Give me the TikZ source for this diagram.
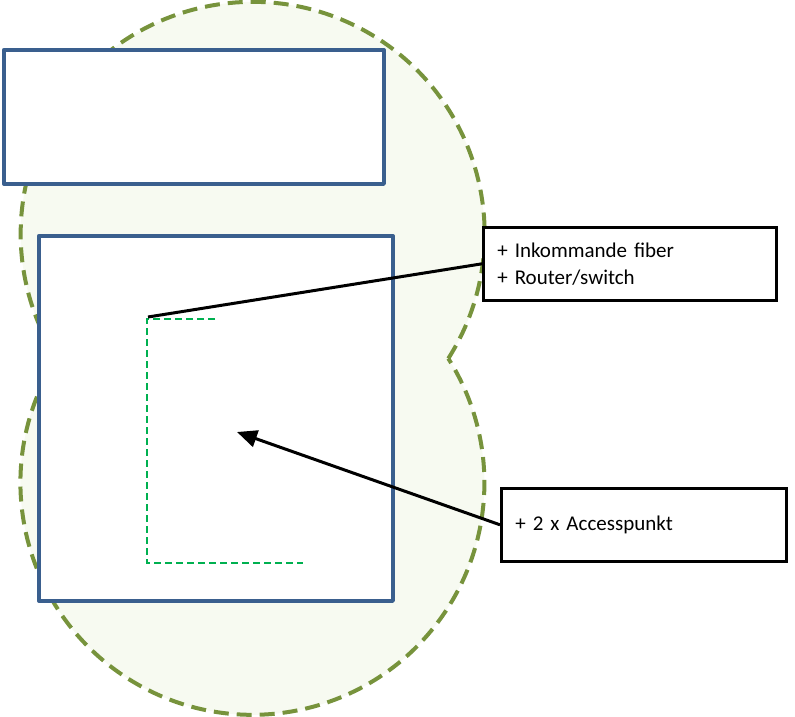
\documentclass[tikz,border=0pt]{standalone}
\usepackage{fontspec}
\setmainfont{Carlito}
\usepackage{xcolor}
\usepackage{tikz}
\usetikzlibrary{arrows.meta,positioning}
\definecolor{zonefill}{HTML}{F7FAF1}
\definecolor{zoneline}{HTML}{77933C}
\definecolor{roomblue}{HTML}{3A5F8E}
\definecolor{cablegreen}{HTML}{00B050}

\begin{document}
\begin{tikzpicture}[x=1pt,y=1pt,>=Latex,
    roomrect/.style={draw=roomblue,line width=3.8pt,line join=round,fill=white,anchor=north west,inner sep=0pt},
    infobox/.style={draw,line width=2.6pt,fill=white,anchor=north west,align=left,inner xsep=14pt,minimum height=73pt,font=\fontsize{21}{27}\selectfont}]
        \useasboundingbox (0,0) rectangle (795,-717);
        % coverage zone (two overlapping circles)
        \filldraw[fill=zonefill,draw=zoneline,line width=4pt,dash pattern=on 15pt off 8pt]
          (448.3,-358.5) arc[start angle=-32.5,end angle=212.4,radius=232]
          arc[start angle=147.5,end angle=392.4,radius=232] -- cycle;
        \node[roomrect,minimum width=380,minimum height=134] (upperroom) at (2,-48) {};
        \node[roomrect,minimum width=354,minimum height=365] (lowerroom) at (37,-234) {};
        % cable run
        \draw[cablegreen,line width=2.3pt,dash pattern=on 7pt off 4pt] (215,-319) -- (147,-319) -- (147,-563) -- (303,-563);
        \node[infobox,text width=265pt] (fiberbox) at (482,-226) {+ Inkommande fiber\\+ Router/switch};
        \node[infobox,text width=257pt] (apbox) at (500,-487) {+ 2 x Accesspunkt};
        \coordinate (fiberpt) at (148,-317);
        \coordinate (aptip) at (237,-432);
        \draw[line width=3pt] (fiberpt) -- (fiberbox.west);
        \draw[line width=3pt,-{Triangle[length=20pt,width=17pt]}] (apbox.west) -- (aptip);
      \end{tikzpicture}
\end{document}
